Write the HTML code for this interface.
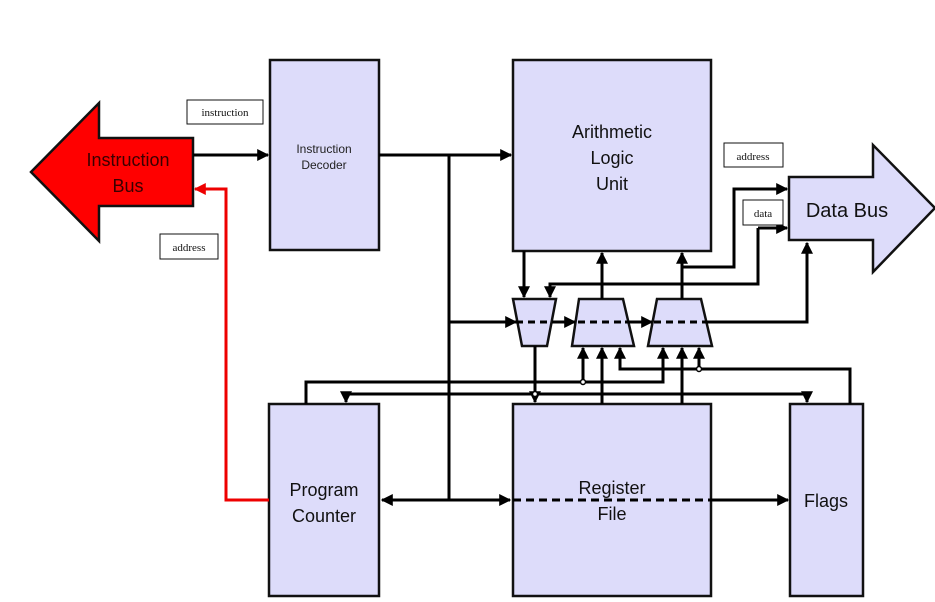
<!DOCTYPE html>
<html><head><meta charset="utf-8"><style>
html,body{margin:0;padding:0;background:#fff;}
svg{display:block;}
text{font-family:"Liberation Sans",Arial,sans-serif;}
.b{fill:#dddcfa;stroke:#111;stroke-width:2.5;}
.l{fill:none;stroke:#000;stroke-width:3;}
.lb{fill:#fff;stroke:#111;stroke-width:1;}
.s{font-family:"Liberation Serif",serif;font-size:11px;fill:#111;}
</style></head><body>
<svg width="935" height="602" viewBox="0 0 935 602" xmlns="http://www.w3.org/2000/svg">
<defs>
<marker id="a" viewBox="0 0 10 10" refX="9" refY="5" markerWidth="4" markerHeight="4" orient="auto-start-reverse"><path d="M0,0 L10,5 L0,10 z" fill="#000"/></marker>
<marker id="r" viewBox="0 0 10 10" refX="9" refY="5" markerWidth="4" markerHeight="4" orient="auto"><path d="M0,0 L10,5 L0,10 z" fill="#e00"/></marker>
</defs>

<polygon points="193,138 193,206 99,206 99,241 31,172 99,103 99,138" fill="#f00" stroke="#111" stroke-width="2.5"/>
<text x="128" y="166" font-size="18" fill="#3a0000" text-anchor="middle">Instruction</text>
<text x="128" y="192" font-size="18" fill="#3a0000" text-anchor="middle">Bus</text>

<polygon points="789,177 873,177 873,145 935,208 873,272 873,240 789,240" class="b"/>
<text x="847" y="217" font-size="20" fill="#111" text-anchor="middle">Data Bus</text>

<rect x="270" y="60" width="109" height="190" class="b"/>
<text x="324" y="153" font-size="12" text-anchor="middle" fill="#222">Instruction</text>
<text x="324" y="169" font-size="12" text-anchor="middle" fill="#222">Decoder</text>

<rect x="513" y="60" width="198" height="191" class="b"/>
<text x="612" y="138" font-size="18" text-anchor="middle" fill="#111">Arithmetic</text>
<text x="612" y="164" font-size="18" text-anchor="middle" fill="#111">Logic</text>
<text x="612" y="190" font-size="18" text-anchor="middle" fill="#111">Unit</text>

<rect x="269" y="404" width="110" height="192" class="b"/>
<text x="324" y="496" font-size="18" text-anchor="middle" fill="#111">Program</text>
<text x="324" y="522" font-size="18" text-anchor="middle" fill="#111">Counter</text>

<rect x="513" y="404" width="198" height="192" class="b"/>
<text x="612" y="494" font-size="18" text-anchor="middle" fill="#111">Register</text>
<text x="612" y="520" font-size="18" text-anchor="middle" fill="#111">File</text>

<rect x="790" y="404" width="73" height="192" class="b"/>
<text x="826" y="507" font-size="18" text-anchor="middle" fill="#111">Flags</text>

<polygon points="513,299 556,299 547,346 522,346" class="b"/>
<polygon points="579,299 623,299 634,346 572,346" class="b"/>
<polygon points="657,299 701,299 712,346 648,346" class="b"/>

<line x1="193" y1="155" x2="268" y2="155" class="l" marker-end="url(#a)"/>
<line x1="379" y1="155" x2="511" y2="155" class="l" marker-end="url(#a)"/>
<line x1="449" y1="155" x2="449" y2="500" class="l"/>
<polyline points="269,500 226,500 226,189 195,189" fill="none" stroke="#e00" stroke-width="3" marker-end="url(#r)"/>

<line x1="524" y1="251" x2="524" y2="297" class="l" marker-end="url(#a)"/>
<line x1="602" y1="299" x2="602" y2="253" class="l" marker-end="url(#a)"/>
<line x1="682" y1="299" x2="682" y2="253" class="l" marker-end="url(#a)"/>
<polyline points="682,267 734,267 734,189 787,189" class="l" marker-end="url(#a)"/>
<polyline points="758,228 758,284 550,284 550,297" class="l" marker-end="url(#a)"/>
<line x1="758" y1="228" x2="787" y2="228" class="l" marker-end="url(#a)"/>

<line x1="449" y1="322" x2="516" y2="322" class="l" marker-end="url(#a)"/>
<line x1="516" y1="322" x2="555" y2="322" stroke="#000" stroke-width="3" stroke-dasharray="7,5"/>
<line x1="552" y1="322" x2="575" y2="322" class="l" marker-end="url(#a)"/>
<line x1="578" y1="322" x2="630" y2="322" stroke="#000" stroke-width="3" stroke-dasharray="7,5"/>
<line x1="625" y1="322" x2="652" y2="322" class="l" marker-end="url(#a)"/>
<line x1="654" y1="322" x2="708" y2="322" stroke="#000" stroke-width="3" stroke-dasharray="7,5"/>
<polyline points="708,322 807,322 807,243" class="l" marker-end="url(#a)"/>

<line x1="535" y1="346" x2="535" y2="402" class="l" marker-end="url(#a)"/>
<polyline points="346,394 807,394 807,402" class="l" marker-end="url(#a)"/>
<line x1="346" y1="393" x2="346" y2="402" class="l" marker-end="url(#a)"/>
<circle cx="535" cy="394" r="2.5" fill="#fff" stroke="#000" stroke-width="1.5"/>
<polyline points="306,404 306,382 663,382 663,348" class="l" marker-end="url(#a)"/>
<line x1="583" y1="382" x2="583" y2="348" class="l" marker-end="url(#a)"/>
<circle cx="583" cy="382" r="2.5" fill="#fff" stroke="#000" stroke-width="1.5"/>
<line x1="602" y1="404" x2="602" y2="348" class="l" marker-end="url(#a)"/>
<line x1="682" y1="404" x2="682" y2="348" class="l" marker-end="url(#a)"/>
<polyline points="850,404 850,369 620,369 620,348" class="l" marker-end="url(#a)"/>
<line x1="699" y1="369" x2="699" y2="348" class="l" marker-end="url(#a)"/>
<circle cx="699" cy="369" r="2.5" fill="#fff" stroke="#000" stroke-width="1.5"/>

<line x1="382" y1="500" x2="510" y2="500" class="l" marker-start="url(#a)" marker-end="url(#a)"/>
<line x1="513" y1="500" x2="711" y2="500" stroke="#000" stroke-width="3" stroke-dasharray="8,5"/>
<line x1="711" y1="500" x2="788" y2="500" class="l" marker-end="url(#a)"/>

<rect x="187" y="100" width="76" height="24" class="lb"/>
<text x="225" y="116" class="s" text-anchor="middle">instruction</text>
<rect x="160" y="234" width="58" height="25" class="lb"/>
<text x="189" y="251" class="s" text-anchor="middle">address</text>
<rect x="724" y="143" width="59" height="24" class="lb"/>
<text x="753" y="160" class="s" text-anchor="middle">address</text>
<rect x="743" y="200" width="40" height="25" class="lb"/>
<text x="763" y="217" class="s" text-anchor="middle">data</text>
</svg>
</body></html>
